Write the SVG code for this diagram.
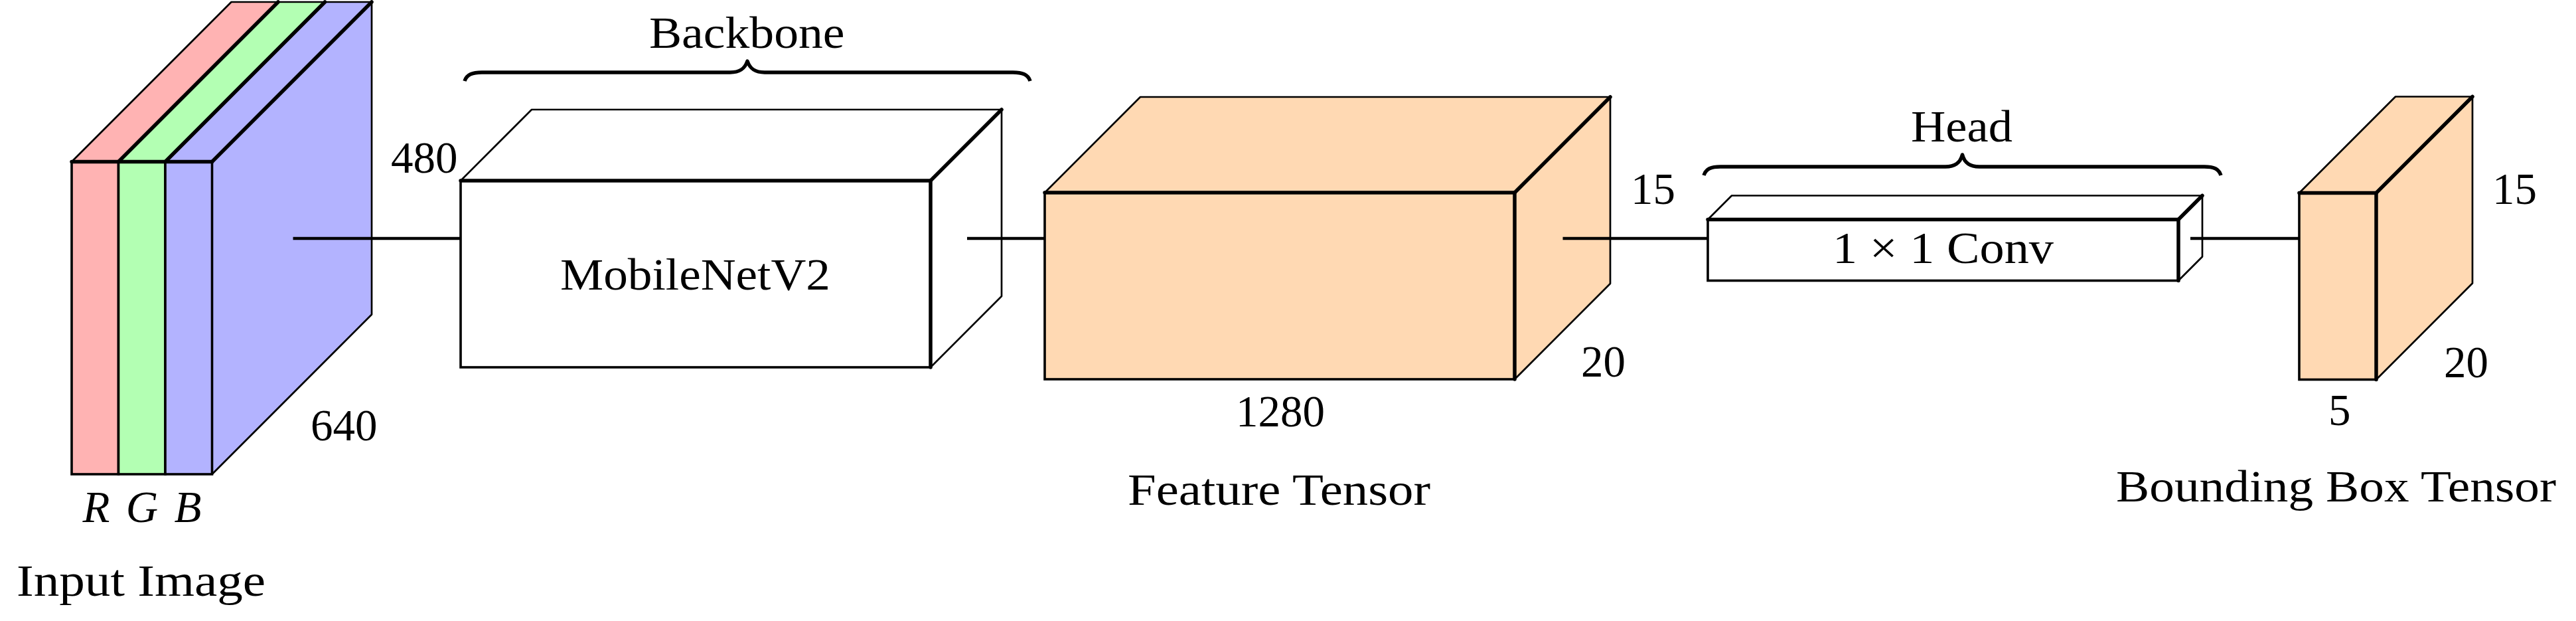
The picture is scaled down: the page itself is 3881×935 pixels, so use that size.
<svg xmlns="http://www.w3.org/2000/svg" width="3881" height="935" viewBox="0 0 3881 935">
<style>
.thin{stroke:#000;stroke-width:2.7;fill:none;stroke-linejoin:round}
.thick{stroke:#000;stroke-width:5.5;fill:none;stroke-linecap:round;stroke-linejoin:round}
.front{stroke:#000;stroke-width:3.6;stroke-linejoin:miter}
.conn{stroke:#000;stroke-width:4.5;fill:none}
.brace{stroke:#000;stroke-width:5.5;fill:none;stroke-linejoin:round}
text{font-family:"Liberation Serif","Times New Roman",serif;font-size:67px;fill:#000}
.it{font-style:italic}
.red{fill:#FFB3B3}.green{fill:#B3FFB3}.blue{fill:#B3B3FF}.orange{fill:#FFD9B3}.white{fill:#FFFFFF}
</style>
<rect width="3881" height="935" fill="#fff"/>

<g id="input-image">
  <polygon class="red" points="108,243.5 348.5,3 419,3 178.5,243.5"/>
  <polygon class="green" points="178.5,243.5 419,3 489.5,3 249,243.5"/>
  <polygon class="blue" points="249,243.5 489.5,3 560,3 319.5,243.5"/>
  <polygon class="blue" points="319.5,243.5 560,3 560,473.5 319.5,714"/>
  <polyline class="thin" points="108,243.5 348.5,3 560,3 560,473.5 319.5,714"/>
  <line class="thick" x1="178.5" y1="243.5" x2="419" y2="3"/>
  <line class="thick" x1="249" y1="243.5" x2="489.5" y2="3"/>
  <line class="thick" x1="319.5" y1="243.5" x2="560" y2="3"/>
  <rect class="red front" x="108" y="243.5" width="70.5" height="470.5"/>
  <rect class="green front" x="178.5" y="243.5" width="70.5" height="470.5"/>
  <rect class="blue front" x="249" y="243.5" width="70.5" height="470.5"/>
  <line class="thick" x1="108" y1="243.5" x2="319.5" y2="243.5"/>
  <text class="it"><tspan x="145" y="785.5" text-anchor="middle">R</tspan><tspan x="214" y="785.5" text-anchor="middle">G</tspan><tspan x="283" y="785.5" text-anchor="middle">B</tspan></text>
  <text x="468" y="663">640</text>
  <text x="25" y="896.5" textLength="375" lengthAdjust="spacingAndGlyphs">Input Image</text>
</g>

<g id="backbone">
  <path class="brace" d="M700,122 C703,112 712,109 726,109 L1100,109 C1114,109 1122,104 1126,92 C1130,104 1138,109 1152,109 L1526,109 C1540,109 1549,112 1552,122"/>
  <text x="978" y="71.5" textLength="294.5" lengthAdjust="spacingAndGlyphs">Backbone</text>
</g>

<g id="mobilenetv2">
  <polygon class="white" points="694,272 801,165 1509,165 1402,272"/>
  <polygon class="white" points="1402,272 1509,165 1509,446 1402,553"/>
  <polyline class="thin" points="694,272 801,165 1509,165 1509,446 1402,553"/>
  <rect class="white front" x="694" y="272" width="708" height="281"/>
  <line class="thick" x1="694" y1="272" x2="1402" y2="272"/>
  <line class="thick" x1="1402" y1="272" x2="1402" y2="553"/>
  <line class="thick" x1="1402" y1="272" x2="1509" y2="165"/>
  <text x="589" y="260">480</text>
  <text x="844" y="436" textLength="407" lengthAdjust="spacingAndGlyphs">MobileNetV2</text>
</g>

<g id="feature-tensor">
  <polygon class="orange" points="1574,290 1718,146 2426,146 2282,290"/>
  <polygon class="orange" points="2282,290 2426,146 2426,427 2282,571"/>
  <polyline class="thin" points="1574,290 1718,146 2426,146 2426,427 2282,571"/>
  <rect class="orange front" x="1574" y="290" width="708" height="281"/>
  <line class="thick" x1="1574" y1="290" x2="2282" y2="290"/>
  <line class="thick" x1="2282" y1="290" x2="2282" y2="571"/>
  <line class="thick" x1="2282" y1="290" x2="2426" y2="146"/>
  <text x="2457" y="306.5">15</text>
  <text x="2382" y="567">20</text>
  <text x="1862" y="641.5">1280</text>
  <text x="1699" y="760" textLength="456" lengthAdjust="spacingAndGlyphs">Feature Tensor</text>
</g>

<g id="head">
  <path class="brace" d="M2567,264 C2570,254 2578,251 2592,251 L2931,251 C2945,251 2953,246 2956.5,233 C2960,246 2968,251 2982,251 L3321,251 C3335,251 3343,254 3346,264"/>
  <text x="2879" y="213.3" textLength="153" lengthAdjust="spacingAndGlyphs">Head</text>
</g>

<g id="conv">
  <polygon class="white" points="2573,330.5 2609,294.5 3318,294.5 3282,330.5"/>
  <polygon class="white" points="3282,330.5 3318,294.5 3318,386.5 3282,422.5"/>
  <polyline class="thin" points="2573,330.5 2609,294.5 3318,294.5 3318,386.5 3282,422.5"/>
  <rect class="white front" x="2573" y="330.5" width="709" height="92"/>
  <line class="thick" x1="2573" y1="330.5" x2="3282" y2="330.5"/>
  <line class="thick" x1="3282" y1="330.5" x2="3282" y2="422.5"/>
  <line class="thick" x1="3282" y1="330.5" x2="3318" y2="294.5"/>
  <text x="2761" y="396" textLength="333" lengthAdjust="spacingAndGlyphs">1 × 1 Conv</text>
</g>

<g id="bbox-tensor">
  <polygon class="orange" points="3464,290.5 3609,145.5 3725,145.5 3580,290.5"/>
  <polygon class="orange" points="3580,290.5 3725,145.5 3725,426.5 3580,571.5"/>
  <polyline class="thin" points="3464,290.5 3609,145.5 3725,145.5 3725,426.5 3580,571.5"/>
  <rect class="orange front" x="3464" y="290.5" width="116" height="281"/>
  <line class="thick" x1="3464" y1="290.5" x2="3580" y2="290.5"/>
  <line class="thick" x1="3580" y1="290.5" x2="3580" y2="571.5"/>
  <line class="thick" x1="3580" y1="290.5" x2="3725" y2="145.5"/>
  <text x="3755" y="307">15</text>
  <text x="3682" y="568">20</text>
  <text x="3508" y="640">5</text>
  <text x="3188" y="755" textLength="663" lengthAdjust="spacingAndGlyphs">Bounding Box Tensor</text>
</g>

<g id="connectors">
  <line class="conn" x1="441.5" y1="359" x2="694" y2="359"/>
  <line class="conn" x1="1457" y1="359" x2="1574" y2="359"/>
  <line class="conn" x1="2354.5" y1="359" x2="2573" y2="359"/>
  <line class="conn" x1="3300" y1="359" x2="3464" y2="359"/>
</g>
</svg>
